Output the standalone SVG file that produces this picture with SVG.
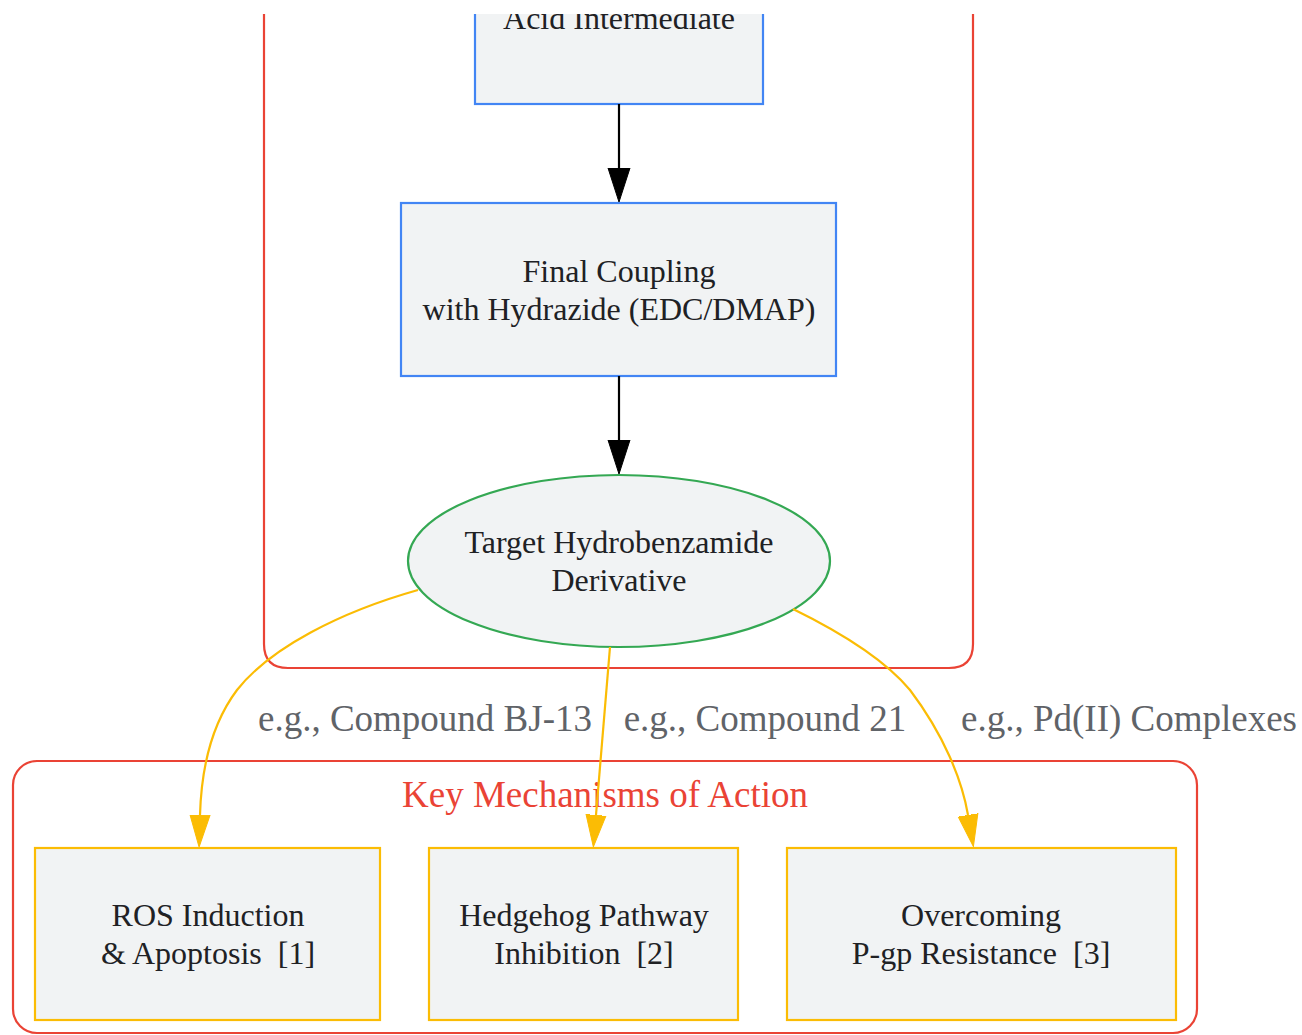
<svg xmlns="http://www.w3.org/2000/svg" width="1302" height="1035" viewBox="0 0 1302 1035">
<style>
.cl{fill:none;stroke:#ea4335;stroke-width:2.2}
.nb{fill:#f1f3f4;stroke:#4285f4;stroke-width:2.2}
.ny{fill:#f1f3f4;stroke:#fbbc04;stroke-width:2.2}
.ng{fill:#f1f3f4;stroke:#34a853;stroke-width:2.2}
.t{font-family:"Liberation Serif",serif;font-size:32px;fill:#202124;text-anchor:middle}
.el{font-family:"Liberation Serif",serif;font-size:37px;fill:#5f6368;text-anchor:middle}
.ct{font-family:"Liberation Serif",serif;font-size:37px;fill:#ea4335;text-anchor:middle}
.ek{fill:none;stroke:#000;stroke-width:2.2}
.ey{fill:none;stroke:#fbbc04;stroke-width:2.2}
</style>
<defs>
<clipPath id="clip"><rect x="0" y="14" width="1302" height="1021"/></clipPath>
<marker id="ak" markerUnits="userSpaceOnUse" markerWidth="40" markerHeight="26" viewBox="0 -13 40 26" refX="0" refY="0" orient="auto"><path d="M0,-11 L34,0 L0,11 z" fill="#000" stroke="#000" stroke-width="1"/></marker>
<marker id="ay" markerUnits="userSpaceOnUse" markerWidth="40" markerHeight="26" viewBox="0 -13 40 26" refX="0" refY="0" orient="auto"><path d="M0,-10 L32,0 L0,10 z" fill="#fbbc04" stroke="#fbbc04" stroke-width="1"/></marker>
</defs>
<rect width="1302" height="1035" fill="#fff"/>
<g clip-path="url(#clip)">
<g id="cluster_synthesis">
<path class="cl" d="M264,-20 L264,644 Q264,668 288,668 L949,668 Q973,668 973,644 L973,-20"/>
</g>
<g id="cluster_mechanisms">
<rect class="cl" x="13" y="761" width="1184" height="272" rx="24"/>
<text class="ct" x="605" y="807">Key Mechanisms of Action</text>
</g>
<g id="acid">
<rect class="nb" x="475" y="-40" width="288" height="144"/>
<text class="t" x="619" y="29">Acid Intermediate</text>
</g>
<g id="coupling">
<rect class="nb" x="401" y="203" width="435" height="173"/>
<text class="t" x="619" y="282">Final Coupling</text>
<text class="t" x="619" y="320">with Hydrazide (EDC/DMAP)</text>
</g>
<g id="target">
<ellipse class="ng" cx="619" cy="561" rx="211" ry="86"/>
<text class="t" x="619" y="553">Target Hydrobenzamide</text>
<text class="t" x="619" y="591">Derivative</text>
</g>
<g id="ros">
<rect class="ny" x="35" y="848" width="345" height="172"/>
<text class="t" x="208" y="926">ROS Induction</text>
<text class="t" x="208" y="964" xml:space="preserve">&amp; Apoptosis  [1]</text>
</g>
<g id="hedgehog">
<rect class="ny" x="429" y="848" width="309" height="172"/>
<text class="t" x="584" y="926">Hedgehog Pathway</text>
<text class="t" x="584" y="964" xml:space="preserve">Inhibition  [2]</text>
</g>
<g id="pgp">
<rect class="ny" x="787" y="848" width="389" height="172"/>
<text class="t" x="981" y="926">Overcoming</text>
<text class="t" x="981" y="964" xml:space="preserve">P-gp Resistance  [3]</text>
</g>
<g id="connectors">
<path class="ek" d="M619,104 L619,168" marker-end="url(#ak)"/>
<path class="ek" d="M619,376 L619,440" marker-end="url(#ak)"/>
<path class="ey" d="M418,590 C340,612 270,648 237,690 C207,730 201,780 200,815" marker-end="url(#ay)"/>
<path class="ey" d="M610,647 L596,815" marker-end="url(#ay)"/>
<path class="ey" d="M793,609 C840,632 885,660 910,690 C944,735 962,780 968,815" marker-end="url(#ay)"/>
<text class="el" x="425" y="731">e.g., Compound BJ-13</text>
<text class="el" x="765" y="731">e.g., Compound 21</text>
<text class="el" x="1129" y="731">e.g., Pd(II) Complexes</text>
</g>
</g>
</svg>
